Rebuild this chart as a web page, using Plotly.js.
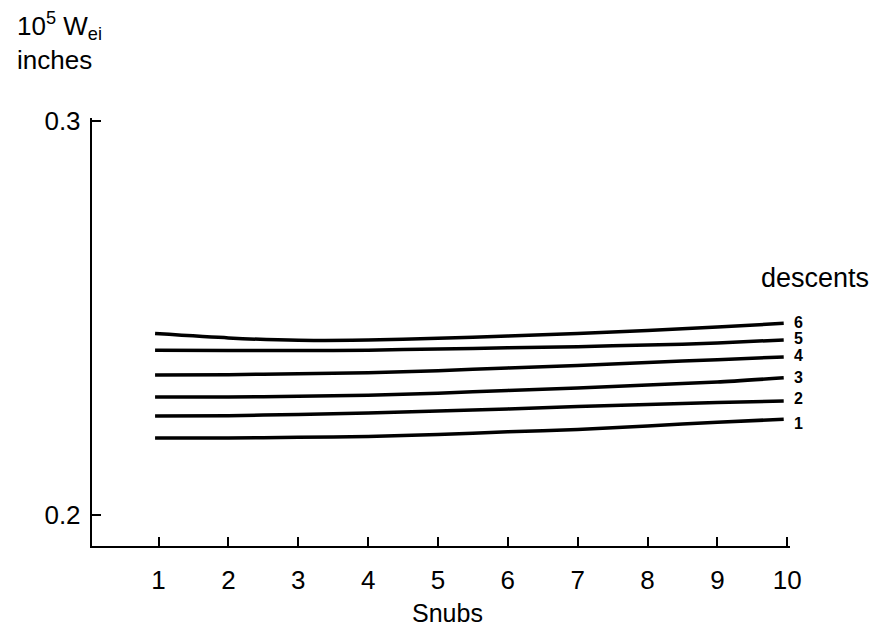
<!DOCTYPE html>
<html>
<head>
<meta charset="utf-8">
<script src="https://cdn.plot.ly/plotly-3.0.1.min.js"></script>
<style>html,body{margin:0;padding:0;background:#fff;}#chart{width:871px;height:634px;}</style>
</head>
<body>
<div id="chart"></div>
<script>
// Snubs (x) positions where values were read
const snubs = [0.95, 2, 3, 4, 5, 6, 7, 8, 9, 9.95];
// 10^5 W_ei (inches) for each number of descents
const descents1 = [0.2195, 0.2195, 0.2197, 0.2199, 0.2204, 0.2211, 0.2217, 0.2226, 0.2235, 0.2243];
const descents2 = [0.2251, 0.2252, 0.2255, 0.2259, 0.2264, 0.2269, 0.2275, 0.2280, 0.2285, 0.2289];
const descents3 = [0.2299, 0.2299, 0.2301, 0.2304, 0.2309, 0.2316, 0.2322, 0.2330, 0.2337, 0.2348];
const descents4 = [0.2355, 0.2356, 0.2358, 0.2361, 0.2366, 0.2373, 0.2379, 0.2387, 0.2394, 0.2401];
const descents5 = [0.2418, 0.2417, 0.2417, 0.2418, 0.2421, 0.2424, 0.2427, 0.2431, 0.2436, 0.2444];
const descents6 = [0.2460, 0.2449, 0.2443, 0.2444, 0.2448, 0.2454, 0.2460, 0.2468, 0.2477, 0.2486];
const seriesNames = ["1", "2", "3", "4", "5", "6"];
const xTicks = [1, 2, 3, 4, 5, 6, 7, 8, 9, 10];
const xTickText = ["1", "2", "3", "4", "5", "6", "7", "8", "9", "10"];
const yTicks = [0.2, 0.3];
const yTickText = ["0.2", "0.3"];

const allSeries = [descents1, descents2, descents3, descents4, descents5, descents6];
const FONT = "Liberation Sans, Arial, sans-serif";

const traces = allSeries.map((vals, i) => ({
  x: snubs, y: vals, name: seriesNames[i], type: "scatter", mode: "lines",
  line: {color: "#000", width: 3.5, shape: "spline", smoothing: 0.6},
  hoverinfo: "skip", showlegend: false
}));

const labelShift = [-4, 3, 0, 1, 1, 1];
const annotations = allSeries.map((vals, i) => ({
  x: snubs[snubs.length - 1], y: vals[vals.length - 1], xref: "x", yref: "y",
  text: "<b>" + seriesNames[i] + "</b>", showarrow: false,
  xanchor: "left", yanchor: "middle", xshift: 8, yshift: labelShift[i],
  font: {family: FONT, size: 16, color: "#000"}
}));
annotations.push({
  xref: "paper", yref: "paper", x: 1.036, y: 0.626, xanchor: "center", yanchor: "middle",
  text: "descents", showarrow: false, font: {family: FONT, size: 27, color: "#000"}
});
annotations.push({
  xref: "paper", yref: "paper", x: -0.11, y: 1.178, xanchor: "left", yanchor: "middle",
  align: "left",
  text: "10<sup>5</sup> W<sub>ei</sub><br>inches", showarrow: false,
  font: {family: FONT, size: 26, color: "#000"}
});
annotations.push({
  xref: "paper", yref: "paper", x: 0.509, y: -0.156, xanchor: "center", yanchor: "middle",
  text: "Snubs", showarrow: false, font: {family: FONT, size: 25, color: "#000"}
});

const layout = {
  width: 871, height: 634,
  margin: {l: 92, r: 81, t: 118, b: 88},
  paper_bgcolor: "#fff", plot_bgcolor: "#fff",
  font: {family: FONT, color: "#000"},
  xaxis: {
    range: [0.047, 10.04], tickvals: xTicks, ticktext: xTickText,
    ticks: "inside", ticklen: 9, tickwidth: 2, tickcolor: "#000",
    showline: true, linecolor: "#000", linewidth: 2.2,
    showgrid: false, zeroline: false,
    tickfont: {family: FONT, size: 26, color: "#000"},
    ticklabelstandoff: 10
  },
  yaxis: {
    range: [0.19214, 0.30068], tickvals: yTicks, ticktext: yTickText,
    ticks: "inside", ticklen: 9, tickwidth: 2, tickcolor: "#000",
    showline: true, linecolor: "#000", linewidth: 2.2,
    showgrid: false, zeroline: false,
    tickfont: {family: FONT, size: 26, color: "#000"},
    ticklabelstandoff: 4
  },
  annotations: annotations
};

Plotly.newPlot("chart", traces, layout, {staticPlot: true, displayModeBar: false});
</script>
</body>
</html>
